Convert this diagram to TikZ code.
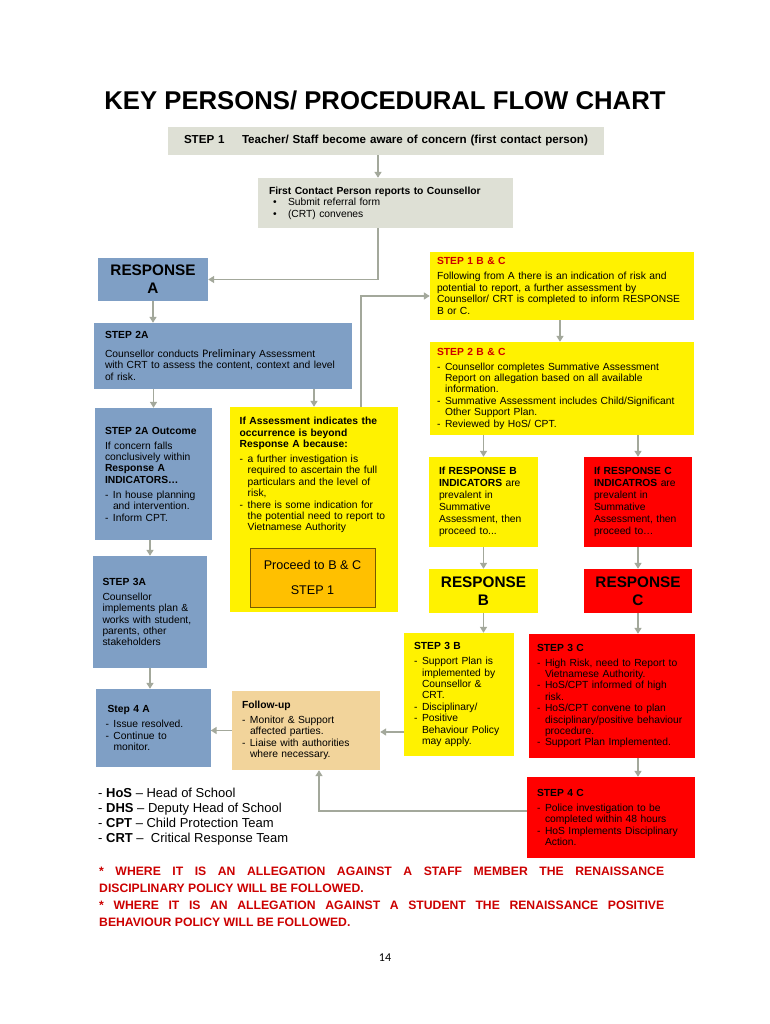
\documentclass[tikz,border=0pt]{standalone}
\usepackage{fontspec}
\setmainfont{Liberation Sans}
\newfontfamily\carl{Carlito}
\usetikzlibrary{arrows.meta}

\definecolor{boxblue}{RGB}{127,159,197}
\definecolor{hdrgray}{RGB}{222,224,213}
\definecolor{procorange}{RGB}{255,192,0}
\definecolor{procedge}{RGB}{120,90,0}
\definecolor{fupbuff}{RGB}{242,212,155}
\definecolor{arrgray}{RGB}{163,168,155}
\definecolor{stepred}{RGB}{204,0,0}

\newcommand{\bx}{\fontsize{10.3}{11.4}\selectfont}
\newcommand{\dsh}{\par\hangindent=8pt\hangafter=1\noindent\makebox[8pt][l]{-}}
\newcommand{\bul}{\par\noindent\hspace*{4pt}\makebox[15pt][l]{\textbullet}}

\begin{document}
\begin{tikzpicture}[x=1pt, y=-1pt,
    box/.style={inner xsep=10pt, inner ysep=2pt, align=left, font=\bx},
    abox/.style={box, fill=boxblue},
    bbox/.style={box, fill=yellow},
    cbox/.style={box, fill=red},
    bigbox/.style={align=center, font=\fontsize{15.3}{18}\selectfont\bfseries},
    arr/.style={-{Triangle[width=7pt,length=6pt]}, draw=arrgray, line width=1.5pt}
]
    \path[use as bounding box, fill=white] (0,0) rectangle (770,1024);

    \node[font=\fontsize{25.7}{30}\selectfont\bfseries, anchor=base] (title) at (385,110)
        {KEY PERSONS/ PROCEDURAL FLOW CHART};

    % top: first contact and the way into response A
    \node[box, fill=hdrgray, minimum width=436pt, minimum height=28pt, text width=404pt,
          inner xsep=16pt, font=\fontsize{11.6}{13}\selectfont\bfseries] (step1) at (386,141)
        {\makebox[58pt][l]{STEP 1}Teacher/ Staff become aware of concern (first contact person)};
    \node[box, fill=hdrgray, minimum width=255pt, minimum height=50pt, text width=233pt,
          inner xsep=11pt] (contact) at (385.5,203)
        {\textbf{First Contact Person reports to Counsellor}\bul Submit referral form\bul (CRT) convenes};

    % left column: response A
    \node[abox, bigbox, minimum width=110pt, minimum height=43pt] (resA) at (153,279.5) {RESPONSE\\A};
    \node[abox, minimum width=258pt, minimum height=66pt, text width=236pt, inner xsep=11pt] (step2A) at (223,356)
        {\textbf{STEP 2A}\\[7pt]Counsellor conducts {\carl\fontsize{11.5}{11.4}\selectfont Preliminary} Assessment\newline
         with CRT to assess the content, context and level\newline of risk.};
    \node[abox, minimum width=117pt, minimum height=132pt, text width=97pt] (out2A) at (153.5,474)
        {\textbf{STEP 2A Outcome}\\[3.6pt]If concern falls\newline conclusively within\newline
         \textbf{Response A}\newline \textbf{INDICATORS\ldots}\\[3.6pt]\dsh In house planning\newline
         and intervention.\dsh Inform CPT.\par};
    \node[abox, minimum width=114pt, minimum height=112pt, text width=95pt, inner xsep=9.5pt] (step3A) at (150,612)
        {\textbf{STEP 3A}\\[3.6pt]Counsellor\newline implements plan \&\newline works with student,\newline
         parents, other\newline stakeholders};
    \node[abox, minimum width=115pt, minimum height=78pt, text width=95pt] (step4A) at (153,728)
        {\hspace*{2pt}\textbf{Step 4 A}\\[3.6pt]\dsh Issue resolved.\dsh Continue to\newline monitor.\par};

    % middle: beyond response A
    \node[bbox, minimum width=168pt, minimum height=205pt] (assess) at (314,509.5) {};
    \node[box, anchor=north west, text width=150pt, inner xsep=0pt, inner ysep=0pt] (assesstxt) at (239.5,417)
        {\textbf{If Assessment indicates the}\newline\textbf{occurrence is beyond}\newline
         \textbf{Response A because:}\\[3.6pt]\dsh a further investigation is\newline
         required to ascertain the full\newline particulars and the level of\newline risk,\dsh
         there is some indication for\newline the potential need to report to\newline Vietnamese Authority\par};
    \node[fill=procorange, draw=procedge, line width=0.8pt, minimum width=125pt, minimum height=59pt,
          align=center, font=\fontsize{12.6}{25}\selectfont] (proceed) at (312.5,577.5)
        {Proceed to B \& C\\STEP 1};
    \node[box, fill=fupbuff, minimum width=148pt, minimum height=79pt, text width=128pt] (followup) at (306,730.5)
        {\textbf{Follow-up}\\[3.6pt]\dsh Monitor \& Support\newline affected parties.\dsh
         Liaise with authorities\newline where necessary.\par};

    % right: responses B and C
    \node[bbox, minimum width=264pt, minimum height=68pt, text width=250pt, inner xsep=7pt] (stepBC1) at (562,286)
        {\textcolor{stepred}{\textbf{STEP 1 B \& C}}\\[3.6pt]Following from A there is an indication of risk and\newline
         potential to report, a further assessment by\newline Counsellor/ CRT is completed to inform RESPONSE\newline B or C.};
    \node[bbox, minimum width=264pt, minimum height=93pt, text width=250pt, inner xsep=7pt] (stepBC2) at (562,388.5)
        {\textcolor{stepred}{\textbf{STEP 2 B \& C}}\\[3.6pt]\dsh Counsellor completes Summative Assessment\newline
         Report on allegation based on all available\newline information.\dsh
         Summative Assessment includes Child/Significant\newline Other Support Plan.\dsh Reviewed by HoS/ CPT.\par};
    \node[bbox, minimum width=109pt, minimum height=90pt, text width=89pt, font=\fontsize{10.3}{12}\selectfont] (indB) at (483.5,502)
        {\textbf{If RESPONSE B}\newline\textbf{INDICATORS} are\newline prevalent in\newline Summative\newline
         Assessment, then\newline proceed to...};
    \node[cbox, minimum width=108pt, minimum height=90pt, text width=88pt, font=\fontsize{10.3}{12}\selectfont] (indC) at (638,502)
        {\textbf{If RESPONSE C}\newline\textbf{INDICATROS} are\newline prevalent in\newline Summative\newline
         Assessment, then\newline proceed to…};
    \node[bbox, bigbox, minimum width=109pt, minimum height=44pt] (resB) at (483.5,591) {RESPONSE\\B};
    \node[cbox, bigbox, minimum width=108pt, minimum height=44pt] (resC) at (638,591) {RESPONSE\\C};
    \node[bbox, minimum width=110pt, minimum height=123pt, text width=90pt] (step3B) at (459,694.5)
        {\textbf{STEP 3 B}\\[3.6pt]\dsh Support Plan is\newline implemented by\newline Counsellor \&\newline CRT.\dsh
         Disciplinary/\dsh Positive\newline Behaviour Policy\newline may apply.\par};
    \node[cbox, minimum width=166pt, minimum height=124pt, text width=150pt, inner xsep=8pt] (step3C) at (612,696)
        {\textbf{STEP 3 C}\\[3.6pt]\dsh High Risk, need to Report to\newline Vietnamese Authority.\dsh
         HoS/CPT informed of high\newline risk.\dsh HoS/CPT convene to plan\newline
         disciplinary/positive behaviour\newline procedure.\dsh Support Plan Implemented.\par};
    \node[cbox, minimum width=168pt, minimum height=81pt, text width=148pt] (step4C) at (611,817.5)
        {\textbf{STEP 4 C}\\[3.6pt]\dsh Police investigation to be\newline completed within 48 hours\dsh
         HoS Implements Disciplinary\newline Action.\par};

    % key and notes
    \node[anchor=north west, align=left, font=\fontsize{13}{15}\selectfont, inner sep=0pt] (legend) at (98,787.5)
        {- \textbf{HoS} – Head of School\\- \textbf{DHS} – Deputy Head of School\\
         - \textbf{CPT} – Child Protection Team\\- \textbf{CRT} –\ \ Critical Response Team};
    \node[anchor=north west, text width=565pt, inner sep=0pt, align=justify,
          font=\fontsize{12.2}{17}\selectfont\bfseries, text=stepred] (footer) at (99,866.5)
        {* WHERE IT IS AN ALLEGATION AGAINST A STAFF MEMBER THE RENAISSANCE\linebreak
         DISCIPLINARY POLICY WILL BE FOLLOWED.\par
         * WHERE IT IS AN ALLEGATION AGAINST A STUDENT THE RENAISSANCE POSITIVE\linebreak
         BEHAVIOUR POLICY WILL BE FOLLOWED.};
    \node[font=\carl\fontsize{12}{14}\selectfont, anchor=base] (pnum) at (385,961) {14};

    % connectors
    \draw[arr] ([xshift=-8pt]step1.south) -- ([xshift=-7.5pt]contact.north);
    \draw[arr] ([xshift=-7.5pt]contact.south) |- (resA.east);
    \draw[arr] (resA.south) -- (resA.south |- step2A.north);
    \draw[arr] (out2A.north |- step2A.south) -- (out2A.north);
    \draw[arr] (assess.north |- step2A.south) -- (assess.north);
    \draw[arr] ([xshift=47pt]assess.north) |- ([yshift=-10pt]stepBC1.west);
    \draw[arr] (step3A.north |- out2A.south) -- (step3A.north);
    \draw[arr] (step3A.south) -- (step3A.south |- step4A.north);
    \draw[arr] ([xshift=-2pt]stepBC1.south) -- ([xshift=-2pt]stepBC2.north);
    \draw[arr] (indB.north |- stepBC2.south) -- (indB.north);
    \draw[arr] (indC.north |- stepBC2.south) -- (indC.north);
    \draw[arr] (indB) -- (resB);
    \draw[arr] (indC) -- (resC);
    \draw[arr] (resB.south) -- (resB.south |- step3B.north);
    \draw[arr] (resC.south) -- (resC.south |- step3C.north);
    \draw[arr] (resC.south |- step3C.south) -- (resC.south |- step4C.north);
    \draw[arr] ([yshift=-37.5pt]step3B.west) -- ([yshift=-1.5pt]followup.east);
    \draw[arr] (followup.west) -- (followup.west -| step4A.east);
    \draw[arr] ([yshift=6.5pt]step4C.west) -| ([xshift=13pt]followup.south);
\end{tikzpicture}
\end{document}
